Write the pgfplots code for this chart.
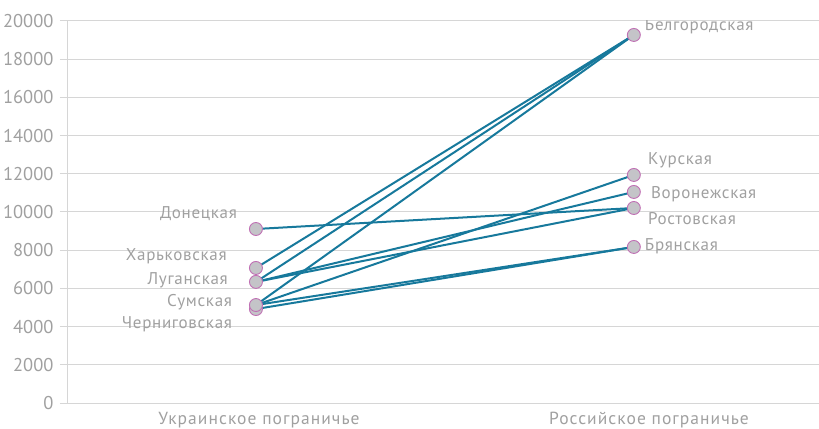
\documentclass[border=0pt]{standalone}
\usepackage{fontspec}
\setmainfont{PT Sans}
\usepackage{pgfplots}
\pgfplotsset{compat=1.18}
\definecolor{lineblue}{HTML}{17799C}
\definecolor{mfill}{HTML}{C4C4C8}
\definecolor{medge}{HTML}{C070B4}
\definecolor{txt}{HTML}{A0A0A0}
\definecolor{gridc}{HTML}{D6D6D6}
\newcommand{\lbl}{\fontsize{17bp}{17bp}\selectfont\addfontfeatures{LetterSpace=4}}
\newcommand{\cat}{\fontsize{17.5bp}{17.5bp}\selectfont\addfontfeatures{LetterSpace=6}}
\begin{document}
\begin{tikzpicture}
\useasboundingbox (0,0) rectangle (819bp,429bp);
\begin{axis}[
  at={(67bp,26bp)}, anchor=south west,
  scale only axis, width=752bp, height=382bp,
  xmin=-0.5, xmax=1.49, ymin=0, ymax=20000,
  xtick={0.008,1.04}, xticklabels={Украинское пограничье, Российское пограничье},
  ytick={0,2000,...,20000},
  ymajorgrids, grid style={gridc, line width=1bp},
  axis x line*=bottom, axis y line*=left,
  axis line style={gridc, line width=1bp, -},
  xtick style={draw=none},
  ytick style={gridc, line width=1bp},
  major tick length=7bp, tick align=outside,
  yticklabel style={font=\fontsize{18.5bp}{18.5bp}\selectfont, txt, xshift=-3bp},
  xticklabel style={font=\cat, txt, yshift=1bp},
  scaled ticks=false,
  /pgf/number format/.cd, set thousands separator={}, assume math mode=true,
]
\addplot[lineblue, line width=2bp] coordinates {(0,9110) (1,10210)};
\addplot[lineblue, line width=2bp] coordinates {(0,7070) (1,19270)};
\addplot[lineblue, line width=2bp] coordinates {(0,6340) (1,19270)};
\addplot[lineblue, line width=2bp] coordinates {(0,6340) (1,11050)};
\addplot[lineblue, line width=2bp] coordinates {(0,6340) (1,10210)};
\addplot[lineblue, line width=2bp] coordinates {(0,5130) (1,19270)};
\addplot[lineblue, line width=2bp] coordinates {(0,5130) (1,11940)};
\addplot[lineblue, line width=2bp] coordinates {(0,5130) (1,8170)};
\addplot[lineblue, line width=2bp] coordinates {(0,4920) (1,8170)};
\addplot[only marks, mark=*, mark size=6.5bp,
  mark options={fill=mfill, draw=medge, line width=0.9bp}] coordinates {
  (0,4920) (0,5130) (0,6340) (0,7070) (0,9110)
  (1,8170) (1,10210) (1,11050) (1,11940) (1,19270)};
\begin{scope}[every node/.style={txt, font=\lbl, inner sep=0pt}]
\node[anchor=east] at (axis cs:-0.050,9900) {Донецкая};
\node[anchor=east] at (axis cs:-0.077,7700) {Харьковская};
\node[anchor=east] at (axis cs:-0.074,6440) {Луганская};
\node[anchor=east] at (axis cs:-0.063,5290) {Сумская};
\node[anchor=east] at (axis cs:-0.063,4140) {Черниговская};
\node[anchor=west] at (axis cs:1.029,19720) {Белгородская};
\node[anchor=west] at (axis cs:1.037,12720) {Курская};
\node[anchor=west] at (axis cs:1.045,10940) {Воронежская};
\node[anchor=west] at (axis cs:1.037,9630) {Ростовская};
\node[anchor=west] at (axis cs:1.029,8220) {Брянская};
\end{scope}
\end{axis}
\end{tikzpicture}
\end{document}
